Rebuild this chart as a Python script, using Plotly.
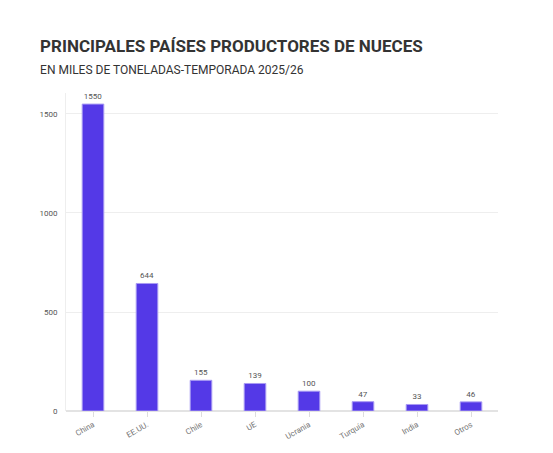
import plotly.graph_objects as go

# datos: miles de toneladas, temporada 2025/26
paises = ["China", "EE.UU.", "Chile", "UE", "Ucrania", "Turquía", "India", "Otros"]
produccion = [1550, 644, 155, 139, 100, 47, 33, 46]

fig = go.Figure()
fig.add_trace(go.Bar(
    x=paises,
    y=produccion,
    text=produccion,
    textposition="outside",
    textfont=dict(size=8, color="#555555"),
    cliponaxis=False,
    marker=dict(color="#5439E7", line=dict(color="#A99BF3", width=1)),
))

fig.update_layout(
    width=553, height=453,
    paper_bgcolor="white", plot_bgcolor="white",
    font=dict(family="Roboto, Lato, sans-serif", color="#444444"),
    title=dict(
        text="<b>PRINCIPALES PAÍSES PRODUCTORES DE NUECES</b><br>"
             "<span style='font-size:12px;color:#333333'>EN MILES DE TONELADAS-TEMPORADA 2025/26</span>",
        x=0.058, xanchor="left", y=0.9035, yanchor="top",
        font=dict(size=17, color="#333333"),
    ),
    margin=dict(l=58, r=63, t=85, b=50),
    bargap=0.6,
    showlegend=False,
)
fig.update_yaxes(
    range=[0, 1606], tickvals=[0, 500, 1000, 1500], automargin=False,
    gridcolor="#EEEEEE", zeroline=True, zerolinecolor="#E3E3E3",
    showline=True, linecolor="#EEEEEE", linewidth=1,
    tickfont=dict(size=8, color="#555555"), ticks="", ticklabelstandoff=6,
)
fig.update_xaxes(
    tickangle=-30, tickfont=dict(size=8, color="#777777"), automargin=False,
    ticks="outside", ticklen=5, tickcolor="#DDDDDD", showgrid=False,
)

fig.write_html("out.html")
